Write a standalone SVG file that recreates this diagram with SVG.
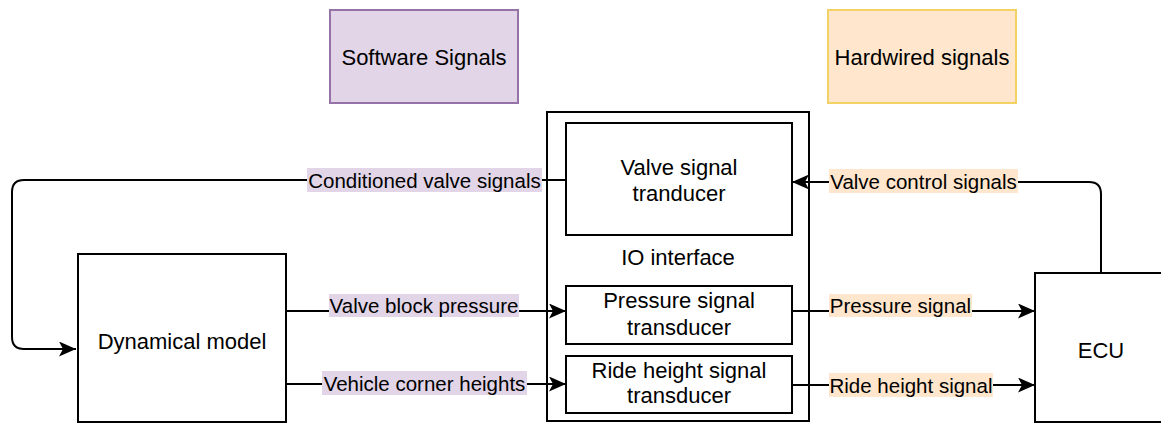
<svg xmlns="http://www.w3.org/2000/svg" width="1161" height="423" viewBox="0 0 1161 423">
<style>
  .box { fill: #ffffff; stroke: #000000; stroke-width: 2; }
  .node { font-family: "Liberation Sans", Arial, sans-serif; font-size: 22px; fill: #000000; text-anchor: middle; dominant-baseline: central; }
  .lbl { font-family: "Liberation Sans", Arial, sans-serif; font-size: 20.5px; fill: #000000; text-anchor: middle; dominant-baseline: central; }
  .edge { fill: none; stroke: #000000; stroke-width: 2; }
  .sw { fill: #e1d5e7; }
  .hw { fill: #ffe6cc; }
</style>
<defs>
  <marker id="arr" viewBox="0 0 17 15" refX="17" refY="7.5" markerWidth="17" markerHeight="15" markerUnits="userSpaceOnUse" orient="auto">
    <path d="M0,0 L17,7.5 L0,15 L4,7.5 Z" fill="#000000"/>
  </marker>
</defs>
<rect width="1161" height="423" fill="#ffffff"/>

<g id="legend-software">
  <rect x="330" y="10" width="188" height="93" fill="#e1d5e7" stroke="#9673a6" stroke-width="2"/>
  <text class="node" x="424" y="57">Software Signals</text>
</g>
<g id="legend-hardwired">
  <rect x="828" y="10" width="188" height="93" fill="#ffe6cc" stroke="#f2d264" stroke-width="2"/>
  <text class="node" x="922" y="57">Hardwired signals</text>
</g>

<g id="io-interface">
  <rect class="box" x="547" y="112" width="262" height="309"/>
  <text class="node" x="678" y="257">IO interface</text>
</g>
<g id="valve-signal-tranducer">
  <rect class="box" x="566" y="123" width="226" height="112"/>
  <text class="node" x="679" y="167">Valve signal</text>
  <text class="node" x="679" y="193">tranducer</text>
</g>
<g id="pressure-signal-transducer">
  <rect class="box" x="566" y="286" width="226" height="58"/>
  <text class="node" x="679" y="300">Pressure signal</text>
  <text class="node" x="679" y="327">transducer</text>
</g>
<g id="ride-height-signal-transducer">
  <rect class="box" x="566" y="356" width="226" height="57"/>
  <text class="node" x="679" y="370">Ride height signal</text>
  <text class="node" x="679" y="395">transducer</text>
</g>
<g id="dynamical-model">
  <rect class="box" x="78" y="254" width="208" height="168"/>
  <text class="node" x="182" y="341">Dynamical model</text>
</g>
<g id="ecu">
  <rect class="box" x="1035" y="273" width="130" height="149"/>
  <text class="node" x="1101" y="350">ECU</text>
</g>

<g id="connectors">
  <path class="edge" d="M566,180 L24,180 Q12,180 12,192 L12,337 Q12,349 24,349 L76,349" marker-end="url(#arr)"/>
  <path class="edge" d="M286,311 L566,311" marker-end="url(#arr)"/>
  <path class="edge" d="M286,384 L566,384" marker-end="url(#arr)"/>
  <path class="edge" d="M1101,273 L1101,194 Q1101,182 1089,182 L792,182" marker-end="url(#arr)"/>
  <path class="edge" d="M792,311 L1035,311" marker-end="url(#arr)"/>
  <path class="edge" d="M792,385 L1035,385" marker-end="url(#arr)"/>

  <rect class="sw" x="307" y="168" width="235" height="24"/>
  <text class="lbl" x="424.5" y="180">Conditioned valve signals</text>
  <rect class="sw" x="329" y="294" width="190" height="23"/>
  <text class="lbl" x="424" y="305.5">Valve block pressure</text>
  <rect class="sw" x="322" y="371" width="205" height="24"/>
  <text class="lbl" x="424.5" y="383">Vehicle corner heights</text>

  <rect class="hw" x="829" y="169" width="189" height="24"/>
  <text class="lbl" x="923.5" y="181">Valve control signals</text>
  <rect class="hw" x="829" y="294" width="143" height="23"/>
  <text class="lbl" x="900.5" y="305.5">Pressure signal</text>
  <rect class="hw" x="829" y="373" width="164" height="24"/>
  <text class="lbl" x="911" y="385">Ride height signal</text>
</g>
</svg>
